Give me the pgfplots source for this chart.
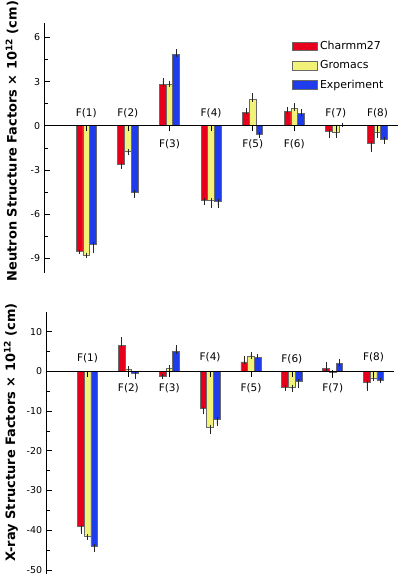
\documentclass[border=0pt]{standalone}
\usepackage{pgfplots}
\pgfplotsset{compat=1.18}
\usepackage{pgfplotstable}
\usepackage{fontspec}
\setmainfont{DejaVu Sans}
\definecolor{cred}{RGB}{230,0,28}
\definecolor{cyel}{RGB}{242,242,120}
\definecolor{cblu}{RGB}{30,60,235}
\definecolor{cedge}{RGB}{105,105,105}

% neutron: value, error plus, error minus
\pgfplotstableread{
x c cp cm g gp gm e ep em
1 -8.50 0 0.05 -8.78 0 0.05 -8.05 0 0.45
2 -2.62 0 0.18 -1.75 0 0.10 -4.52 0 0.23
3 2.78 0.27 0 2.80 0.10 0 4.82 0.22 0
4 -5.07 0 0.18 -5.10 0 0.30 -5.17 0 0.25
5 0.93 0.13 0 1.78 0.27 0 -0.60 0 0.05
6 0.97 0.15 0 1.15 0.25 0 0.85 0.10 0
7 -0.40 0 0.30 -0.45 0 0.20 0.05 0 0
8 -1.22 0 0.40 -0.42 0 0.25 -0.95 0 0.12
}\neutron

% x-ray
\pgfplotstableread{
x c cp cm g gp gm e ep em
1 -39.0 0 1.3 -41.6 0 0.2 -44.0 0 0.9
2 6.55 1.5 0 0.6 0.1 0 -0.5 0 0.9
3 -1.35 0 0.1 0.7 0.4 0 5.0 0.9 0
4 -9.3 0 0.9 -14.0 0 1.2 -12.1 0 1.1
5 2.35 1.0 0 3.8 0.5 0 3.6 0.1 0
6 -3.95 0 0.45 -3.95 0 0.55 -2.5 0 1.0
7 0.7 1.1 0 -0.3 0 0.7 1.95 0.65 0
8 -2.7 0 1.7 -1.7 0 0.2 -2.3 0 0.1
}\xray

\pgfplotsset{
  panel/.style={
    scale only axis, axis on top,
    ybar=0pt, bar width=6.7bp,
    xmin=0, xmax=8.5,
    axis x line=middle, axis y line=left,
    axis line style={-, black, line width=0.7bp},
    xtick=\empty,
    extra x ticks={1,...,8}, extra x tick labels={},
    extra x tick style={tick align=outside},
    tick align=inside,
    major tick length=5.5bp, minor tick length=3bp,
    minor y tick num=1,
    every tick/.style={black, line width=0.6bp},
    /pgf/number format/assume math mode=true,
    yticklabel style={font=\fontsize{9.5}{11}\selectfont, xshift=-1bp},
    ylabel style={font=\fontsize{13}{15}\selectfont\bfseries, anchor=center},
    error bars/y dir=both, error bars/y explicit,
    error bars/error bar style={line width=0.6bp, black!85},
    error bars/error mark options={line width=0.6bp, black!85, mark size=2.4bp},
  },
  sq/.style={legend image code/.code={\draw[##1, line width=0.8bp] (0bp,-4.3bp) rectangle (24.6bp,4.3bp);}},
  sred/.style={fill=cred, draw=cedge, line width=0.8bp, sq},
  syel/.style={fill=cyel, draw=cedge, line width=0.8bp, sq},
  sblu/.style={fill=cblu, draw=cedge, line width=0.8bp, sq},
}

\begin{document}
\begin{tikzpicture}
\useasboundingbox (0,0) rectangle (400bp,574bp);
% ---------- Neutron ----------
\begin{axis}[panel,
  at={(44.7bp,301bp)}, anchor=south west,
  width=353.6bp, height=250.3bp,
  ymin=-10, ymax=7,
  ytick={-9,-6,-3,0,3,6},
  ylabel={Neutron Structure Factors × 10\textsuperscript{12} (cm)},
  ylabel style={at={(axis description cs:-0.0925,0.527)}},
  legend style={at={(axis description cs:0.7,0.935)}, anchor=north west,
    draw=none, fill=none, inner sep=0pt, row sep=5.2bp,
    nodes={inner sep=2.2bp, font=\fontsize{11}{13}\selectfont}},
  legend cell align=left,
]
\addplot[sred] table[x=x, y=c, y error plus=cp, y error minus=cm] {\neutron};
\addplot[syel] table[x=x, y=g, y error plus=gp, y error minus=gm] {\neutron};
\addplot[sblu] table[x=x, y=e, y error plus=ep, y error minus=em] {\neutron};
\legend{Charmm27, Gromacs, Experiment}
\begin{scope}[every node/.style={font=\fontsize{10.5}{12}\selectfont}]
\node at (axis cs:1,0.85) {F(1)};
\node at (axis cs:2,0.85) {F(2)};
\node at (axis cs:3,-1.27) {F(3)};
\node at (axis cs:4,0.85) {F(4)};
\node at (axis cs:5,-1.27) {F(5)};
\node at (axis cs:6,-1.27) {F(6)};
\node at (axis cs:7,0.85) {F(7)};
\node at (axis cs:8,0.85) {F(8)};
\end{scope}
\end{axis}
% ---------- X-ray ----------
\begin{axis}[panel,
  at={(46.7bp,0bp)}, anchor=south west,
  width=347.3bp, height=262.3bp,
  ymin=-51, ymax=15,
  ytick={-50,-40,-30,-20,-10,0,10},
  ylabel={X-ray Structure Factors × 10\textsuperscript{12} (cm)},
  ylabel style={at={(axis description cs:-0.103,0.54)}},
]
\addplot[sred] table[x=x, y=c, y error plus=cp, y error minus=cm] {\xray};
\addplot[syel] table[x=x, y=g, y error plus=gp, y error minus=gm] {\xray};
\addplot[sblu] table[x=x, y=e, y error plus=ep, y error minus=em] {\xray};
\begin{scope}[every node/.style={font=\fontsize{10.5}{12}\selectfont}]
\node at (axis cs:1,3.4) {F(1)};
\node at (axis cs:2,-4.3) {F(2)};
\node at (axis cs:3,-4.3) {F(3)};
\node at (axis cs:4,3.5) {F(4)};
\node at (axis cs:5,-4.3) {F(5)};
\node at (axis cs:6,3.0) {F(6)};
\node at (axis cs:7,-4.3) {F(7)};
\node at (axis cs:8,3.5) {F(8)};
\end{scope}
\end{axis}
\end{tikzpicture}
\end{document}
